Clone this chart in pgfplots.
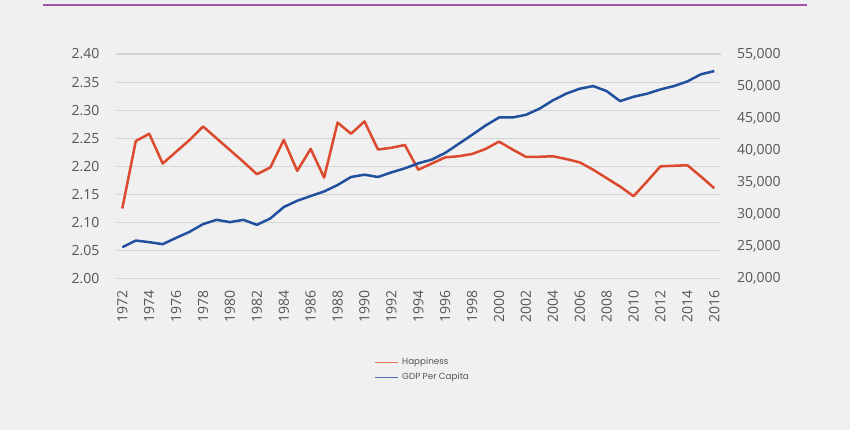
\documentclass[border=0pt]{standalone}
\usepackage{fontspec}
\setmainfont{Open Sans}
\newfontfamily\legfont{Poppins}
\usepackage{pgfplots}
\pgfplotsset{compat=1.18}
\usepackage{pgfplotstable}
\definecolor{bg}{HTML}{F0F0F0}
\definecolor{gridc}{HTML}{D4D4D4}
\definecolor{happy}{HTML}{DC4A2E}
\definecolor{gdp}{HTML}{21509E}
\definecolor{happyleg}{HTML}{E8735E}
\definecolor{gdpleg}{HTML}{4A72BC}
\definecolor{purp}{HTML}{A452A8}
\definecolor{ticktext}{HTML}{555555}

\pgfplotstableread{
year happy gdp
1972 2.125 24900
1973 2.245 25940
1974 2.258 25690
1975 2.205 25380
1976 2.226 26360
1977 2.247 27300
1978 2.271 28500
1979 2.250 29170
1980 2.229 28810
1981 2.208 29170
1982 2.186 28390
1983 2.198 29380
1984 2.247 31160
1985 2.192 32140
1986 2.231 32875
1987 2.180 33590
1988 2.278 34590
1989 2.258 35840
1990 2.280 36200
1991 2.230 35840
1992 2.233 36560
1993 2.238 37190
1994 2.194 37970
1995 2.205 38550
1996 2.216 39590
1997 2.218 41000
1998 2.222 42410
1999 2.231 43860
2000 2.244 45110
2001 2.230 45110
2002 2.217 45530
2003 2.217 46470
2004 2.218 47770
2005 2.213 48830
2006 2.207 49590
2007 2.194 50000
2008 2.179 49220
2009 2.164 47660
2010 2.147 48340
2011 2.173 48810
2012 2.200 49480
2013 2.201 50000
2014 2.202 50730
2015 2.182 51830
2016 2.161 52340
}\datatable

\pgfplotsset{
  common/.style={
    at={(115.6pt,151.3pt)}, anchor=south west,
    scale only axis, width=605.4pt, height=224.7pt,
    xmin=1971.5, xmax=2016.5,
    axis line style={draw=none},
    major tick length=0pt,
    tick style={draw=none},
    tick label style={font=\fontsize{14}{14}\selectfont, text=ticktext, inner sep=0pt},
    /pgf/number format/assume math mode=true,
    clip=false,
  },
}

\begin{document}
\begin{tikzpicture}[x=1pt,y=1pt]
\fill[bg] (0,0) rectangle (850,430);
\draw[purp, line width=2.2pt] (43,425) -- (807,425);
\begin{axis}[
  common,
  ymin=2, ymax=2.4,
  ytick={2,2.05,2.1,2.15,2.2,2.25,2.3,2.35,2.4},
  yticklabel={\pgfmathprintnumber[fixed,fixed zerofill,precision=2]{\tick}},
  xtick={1972,1974,...,2016},
  xticklabel={\pgfmathprintnumber[1000 sep={}]{\tick}},
  xticklabel style={rotate=90, anchor=east},
  xticklabel shift=12pt,
  yticklabel shift=16pt,
  ymajorgrids, xmajorgrids=false,
  grid style={gridc, line width=1.1pt},
]
\addplot[happy, line width=2.5pt, line join=round, no markers] table[x=year, y=happy] {\datatable};
\end{axis}
\begin{axis}[
  common,
  ymin=20000, ymax=55000,
  axis y line*=right, axis x line=none,
  ytick={20000,25000,30000,35000,40000,45000,50000,55000},
  yticklabel={\pgfmathprintnumber[1000 sep={,}]{\tick}},
  yticklabel style={anchor=west},
  yticklabel shift=16pt,
  scaled y ticks=false,
]
\addplot[gdp, line width=2.5pt, line join=round, no markers] table[x=year, y=gdp] {\datatable};
\end{axis}
% legend
\draw[happyleg, line width=1.5pt] (375,67.7) -- (398,67.7);
\node[anchor=west, inner sep=0pt, text=ticktext, font=\legfont\fontsize{8.8}{8.8}\selectfont] at (402,67.7) {Happiness};
\draw[gdpleg, line width=1.5pt] (375,52.7) -- (398,52.7);
\node[anchor=west, inner sep=0pt, text=ticktext, font=\legfont\fontsize{8.8}{8.8}\selectfont] at (402,52.7) {GDP Per Capita};
\end{tikzpicture}
\end{document}
